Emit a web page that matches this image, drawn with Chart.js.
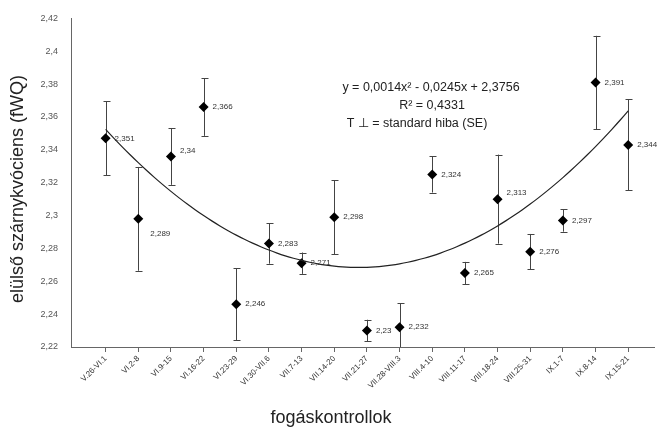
<!DOCTYPE html>
<html>
<head>
<meta charset="utf-8">
<script src="https://cdn.jsdelivr.net/npm/chart.js@4"></script>
<style>
  body { margin: 0; background: #fff; }
  #wrap { width: 659px; height: 429px; }
</style>
</head>
<body>
<div id="wrap"><canvas id="myChart" width="659" height="429"></canvas></div>
<script>
// fogáskontrollok (categories)
var periods = ["V.26-VI.1", "VI.2-8", "VI.9-15", "VI.16-22", "VI.23-29", "VI.30-VII.6",
  "VII.7-13", "VII.14-20", "VII.21-27", "VII.28-VIII.3", "VIII.4-10", "VIII.11-17",
  "VIII.18-24", "VIII.25-31", "IX.1-7", "IX.8-14", "IX.15-21"];
// plotted means (as drawn)
var means = [2.347, 2.298, 2.336, 2.366, 2.246, 2.283, 2.271, 2.299, 2.230, 2.232,
  2.325, 2.265, 2.310, 2.278, 2.297, 2.381, 2.343];
// standard error (SE)
var se = [0.0226, 0.0316, 0.0173, 0.0175, 0.022, 0.0123, 0.0065, 0.0224, 0.0066, 0.0147,
  0.011, 0.0068, 0.0271, 0.0108, 0.0068, 0.0284, 0.0277];
// value labels written next to the points
var valueLabels = ["2,351", "2,289", "2,34", "2,366", "2,246", "2,283", "2,271", "2,298", "2,23",
  "2,232", "2,324", "2,265", "2,313", "2,276", "2,297", "2,391", "2,344"];
// trendline y = a x^2 + b x + c
var trendCoef = [0.0014, -0.0245, 2.3756];
var yTicks = [2.22, 2.24, 2.26, 2.28, 2.3, 2.32, 2.34, 2.36, 2.38, 2.4, 2.42];

var pts = means.map(function(v, i){ return {x: i + 1, y: v}; });
var trend = [];
for (var t = 1; t <= periods.length; t += 0.25) {
  trend.push({x: t, y: trendCoef[0]*t*t + trendCoef[1]*t + trendCoef[2]});
}

var extras = {
  id: "extras",
  beforeDatasetsDraw: function(chart){
    var ctx = chart.ctx, xs = chart.scales.x, ys = chart.scales.y, a = chart.chartArea;
    ctx.save();
    ctx.beginPath();
    ctx.rect(a.left, a.top - 20, a.right - a.left, a.bottom - a.top + 20);
    ctx.clip();
    ctx.strokeStyle = "#444";
    ctx.lineWidth = 1;
    means.forEach(function(v, i){
      var px = Math.round(xs.getPixelForValue(i + 1)) + 0.5;
      var top = ys.getPixelForValue(v + se[i]);
      var bot = Math.min(ys.getPixelForValue(v - se[i]), a.bottom);
      ctx.beginPath();
      ctx.moveTo(px, top); ctx.lineTo(px, bot);
      ctx.moveTo(px - 3, Math.round(top) + 0.5); ctx.lineTo(px + 4, Math.round(top) + 0.5);
      if (bot < a.bottom) {
        ctx.moveTo(px - 3, Math.round(bot) + 0.5); ctx.lineTo(px + 4, Math.round(bot) + 0.5);
      }
      ctx.stroke();
    });
    ctx.restore();
  },
  afterDatasetsDraw: function(chart){
    var ctx = chart.ctx, xs = chart.scales.x, ys = chart.scales.y;
    var shift = {1: 15, 2: -6, 12: -6};
    ctx.save();
    ctx.fillStyle = "#333";
    ctx.font = "8px 'Liberation Sans'";
    ctx.textBaseline = "middle";
    ctx.textAlign = "left";
    valueLabels.forEach(function(s, i){
      var px = xs.getPixelForValue(i + 1), py = ys.getPixelForValue(means[i]);
      ctx.fillText(s, px + (i === 1 ? 12 : 9), py + (shift[i] || 0));
    });
    // equation box
    ctx.fillStyle = "#222";
    ctx.font = "12.5px 'Liberation Sans'";
    ctx.textAlign = "center";
    ctx.fillText("y = 0,0014x\u00b2 - 0,0245x + 2,3756", 431, 88);
    ctx.fillText("R\u00b2 = 0,4331", 432, 106);
    ctx.fillText("T \u22a5 = standard hiba (SE)", 417, 124);
    // axis titles
    ctx.fillStyle = "#222";
    ctx.font = "18px 'Liberation Sans'";
    ctx.fillText("fogáskontrollok", 331, 418);
    ctx.translate(18, 189);
    ctx.rotate(-Math.PI / 2);
    ctx.fillText("elülső szárnykvóciens (fWQ)", 0, 0);
    ctx.restore();
  }
};

var ctx = document.getElementById("myChart").getContext("2d");
var myChart = new Chart(ctx, {
  type: "scatter",
  data: {
    datasets: [{
      type: "line",
      data: trend,
      borderColor: "#222",
      borderWidth: 1.2,
      pointRadius: 0,
      tension: 0.3,
      fill: false
    }, {
      data: pts,
      pointStyle: "rectRot",
      pointRadius: 5,
      backgroundColor: "#000",
      borderColor: "#000",
      borderWidth: 0
    }]
  },
  options: {
    responsive: false,
    animation: false,
    devicePixelRatio: 1,
    layout: { padding: { top: 15, right: 0, left: 0, bottom: 0 } },
    plugins: { legend: { display: false }, tooltip: { enabled: false } },
    scales: {
      x: {
        type: "linear",
        min: -0.06,
        max: 17.79,
        afterFit: function(s){ s.height = 82; },
        afterBuildTicks: function(s){
          s.ticks = periods.map(function(p, i){ return {value: i + 1}; });
        },
        border: { color: "#666", width: 1 },
        grid: { drawOnChartArea: false, drawTicks: true, tickLength: 5, color: "#666" },
        ticks: {
          autoSkip: false,
          minRotation: 45,
          maxRotation: 45,
          padding: 2,
          color: "#333",
          font: { family: "'Liberation Sans'", size: 8 },
          callback: function(v){ return periods[v - 1]; }
        }
      },
      y: {
        min: 2.22,
        max: 2.42,
        afterFit: function(s){ s.width = 71; },
        afterBuildTicks: function(s){
          s.ticks = yTicks.map(function(v){ return {value: v}; });
        },
        border: { color: "#666", width: 1 },
        grid: { display: false, drawTicks: false },
        ticks: {
          padding: 13,
          color: "#555",
          font: { family: "'Liberation Sans'", size: 9 },
          callback: function(v){ return String(Number(v.toFixed(2))).replace(".", ","); }
        }
      }
    }
  },
  plugins: [extras]
});
</script>
</body>
</html>
